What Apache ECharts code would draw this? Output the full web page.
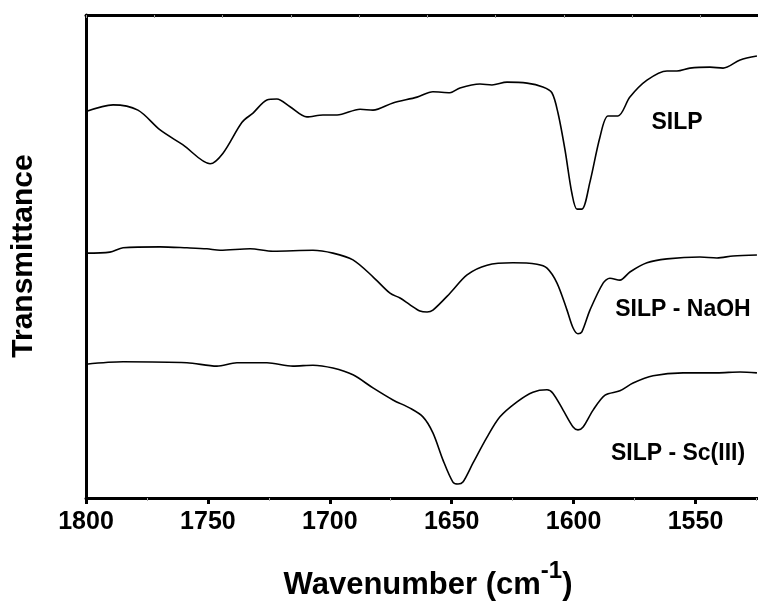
<!DOCTYPE html>
<html>
<head>
<meta charset="utf-8">
<script src="https://cdn.jsdelivr.net/npm/echarts@6/dist/echarts.min.js"></script>
<style>
  html, body { margin: 0; padding: 0; background: #fff; }
  #chart { width: 758px; height: 602px; }
</style>
</head>
<body>
<div id="chart"></div>
<script>
// FTIR spectra, 1800–1525 cm-1 (arbitrary transmittance units, curves offset)
const ticks = [1800, 1750, 1700, 1650, 1600, 1550];

const silpWn = [1800, 1788.9, 1778.7, 1769.6, 1760.2, 1749.1, 1743.8, 1736.0, 1731.5, 1725.8, 1721.7, 1716.3, 1709.4, 1702.8, 1697.0, 1687.6, 1682.3, 1674.1, 1664.2, 1657.7, 1650.7, 1646.6, 1638.4, 1633.5, 1627.3, 1619.1, 1612.6, 1608.9, 1606.4, 1603.5, 1600.7, 1598.6, 1596.6, 1593.3, 1589.2, 1585.9, 1581.8, 1576.9, 1569.9, 1561.7, 1557.6, 1552.3, 1544.1, 1538.7, 1531.7, 1524.8];
const silpT = [80.0, 81.4, 80.3, 76.2, 73.1, 69.2, 71.4, 77.8, 79.7, 82.4, 82.6, 81.0, 78.9, 79.3, 79.3, 80.5, 80.3, 81.8, 83.0, 84.1, 83.9, 84.9, 85.7, 85.5, 86.1, 85.9, 85.1, 83.9, 79.7, 72.0, 63.1, 59.8, 59.8, 65.4, 74.7, 79.1, 79.1, 83.0, 86.5, 88.4, 88.4, 89.0, 89.2, 89.0, 90.7, 91.5];

const naohWn = [1800, 1790.2, 1784.8, 1769.6, 1758.6, 1750.4, 1745.0, 1732.7, 1723.3, 1706.9, 1698.7, 1690.5, 1682.3, 1675.3, 1671.2, 1667.1, 1663.0, 1660.1, 1657.7, 1650.7, 1643.7, 1635.5, 1624.9, 1615.0, 1610.9, 1606.8, 1602.7, 1600.2, 1598.2, 1596.6, 1593.3, 1587.9, 1585.1, 1581.0, 1576.9, 1569.9, 1561.7, 1548.2, 1541.2, 1534.6, 1524.8];
const naohT = [50.7, 50.9, 51.8, 52.0, 51.8, 51.6, 51.3, 51.6, 51.1, 51.3, 50.7, 49.3, 45.8, 42.4, 41.4, 40.0, 38.7, 38.5, 38.9, 42.4, 46.2, 48.2, 48.7, 48.4, 47.6, 44.5, 38.9, 35.2, 34.0, 34.4, 38.9, 44.5, 45.5, 45.1, 46.8, 48.7, 49.5, 49.9, 49.7, 50.1, 50.3];

const scWn = [1800, 1784.8, 1758.6, 1746.3, 1738.1, 1725.8, 1715.1, 1706.9, 1698.7, 1690.5, 1682.3, 1674.1, 1667.1, 1661.8, 1657.7, 1653.6, 1649.5, 1647.4, 1645.4, 1641.3, 1635.5, 1630.2, 1623.2, 1616.7, 1610.9, 1608.5, 1604.3, 1600.2, 1598.2, 1596.1, 1592.0, 1587.1, 1581.0, 1575.6, 1567.4, 1555.1, 1541.2, 1531.7, 1524.8];
const scT = [27.7, 28.2, 28.0, 27.3, 28.0, 28.0, 27.3, 27.5, 26.9, 25.5, 22.8, 20.3, 18.6, 16.8, 13.5, 7.9, 3.3, 2.9, 3.3, 7.2, 12.6, 16.8, 19.9, 21.9, 22.4, 21.7, 18.2, 14.7, 14.1, 14.7, 18.2, 21.3, 22.2, 23.8, 25.3, 25.9, 25.9, 26.1, 25.9];

const seriesNames = ['SILP', 'SILP - NaOH', 'SILP - Sc(III)'];
const xTitle = 'Wavenumber (cm';
const yTitle = 'Transmittance';

const pairs = (xs, ys) => xs.map((x, i) => [x, ys[i]]);
const FONT = '"Liberation Sans", Arial, sans-serif';

const chart = echarts.init(document.getElementById('chart'), null, { renderer: 'canvas' });

const lineSeries = (name, data) => ({
  name,
  type: 'line',
  xAxisIndex: 0,
  yAxisIndex: 0,
  data,
  showSymbol: false,
  smooth: 0.3,
  lineStyle: { color: '#000', width: 1.6 },
  itemStyle: { color: '#000' },
  animation: false
});

const labelText = (text, x, y) => ({
  type: 'text',
  x, y,
  style: {
    text,
    font: 'bold 23px ' + FONT,
    fill: '#000',
    align: 'center',
    verticalAlign: 'middle'
  }
});

// The plotting frame runs past the right edge of the page: the wavenumber
// scale spans 1800–1500 while only 1800–~1525 is visible.
chart.setOption({
  backgroundColor: '#fff',
  animation: false,
  grid: { left: 86, right: -59.4, top: 15, bottom: 104, containLabel: false, outerBoundsMode: 'none' },
  xAxis: [
    {
      type: 'value',
      position: 'bottom',
      min: 1500,
      max: 1800,
      interval: 50,
      inverse: true,
      axisLine: { show: true, onZero: false, lineStyle: { color: '#000', width: 3 } },
      axisTick: { show: true, inside: false, length: 6, lineStyle: { color: '#000', width: 3 } },
      minorTick: { show: true, splitNumber: 2, length: 3, lineStyle: { color: '#aaa', width: 1 } },
      axisLabel: {
        show: true,
        margin: 12,
        color: '#000',
        fontFamily: FONT,
        fontWeight: 'bold',
        fontSize: 25,
        formatter: v => (ticks.indexOf(v) >= 0 ? String(v) : '')
      },
      splitLine: { show: false }
    },
    {
      type: 'value',
      position: 'top',
      min: 0,
      max: 10.71,
      interval: 1,
      axisLine: { show: true, onZero: false, lineStyle: { color: '#000', width: 3 } },
      axisTick: { show: true, inside: true, length: 3, lineStyle: { color: '#999', width: 1 } },
      axisLabel: { show: false },
      splitLine: { show: false }
    }
  ],
  yAxis: {
    type: 'value',
    min: 0,
    max: 100,
    axisLine: { show: true, onZero: false, lineStyle: { color: '#000', width: 3 } },
    axisTick: { show: false },
    axisLabel: { show: false },
    splitLine: { show: false }
  },
  series: [
    lineSeries(seriesNames[0], pairs(silpWn, silpT)),
    lineSeries(seriesNames[1], pairs(naohWn, naohT)),
    lineSeries(seriesNames[2], pairs(scWn, scT))
  ],
  graphic: [
    labelText(seriesNames[0], 677, 123),
    labelText(seriesNames[1], 683, 310),
    labelText(seriesNames[2], 678, 454),
    {
      type: 'text',
      x: 428,
      y: 580,
      style: {
        text: '{m|' + xTitle + '}{s|-1}{m|)}',
        align: 'center',
        verticalAlign: 'middle',
        rich: {
          m: { font: 'bold 31px ' + FONT, fill: '#000', verticalAlign: 'bottom' },
          s: { font: 'bold 24px ' + FONT, fill: '#000', verticalAlign: 'top', padding: [0, 0, 18, 0] }
        }
      }
    },
    {
      type: 'text',
      x: 24,
      y: 256,
      rotation: Math.PI / 2,
      style: {
        text: yTitle,
        font: 'bold 30px ' + FONT,
        fill: '#000',
        align: 'center',
        verticalAlign: 'middle'
      }
    }
  ]
});
</script>
</body>
</html>
